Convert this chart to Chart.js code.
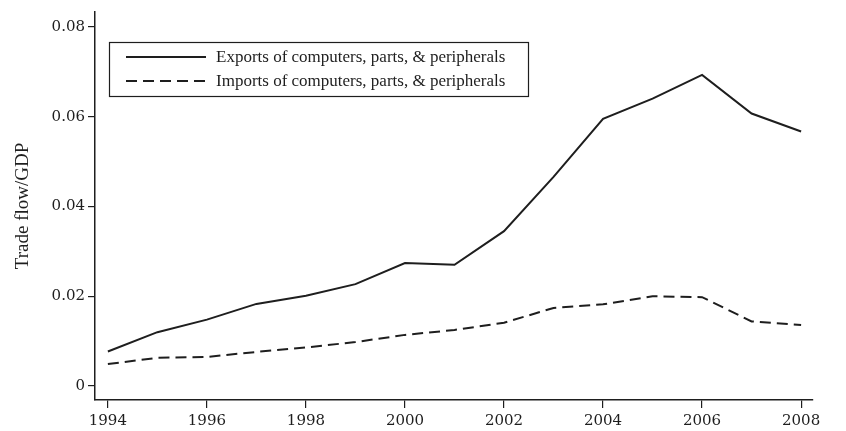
<!DOCTYPE html>
<html>
<head>
<meta charset="utf-8">
<script src="https://cdn.jsdelivr.net/npm/chart.js@4"></script>
<style>
  html, body { margin: 0; padding: 0; background: #fff; }
  #wrap { width: 846px; height: 431px; }
</style>
</head>
<body>
<div id="wrap"><canvas id="chart" width="846" height="431"></canvas></div>
<script>
// Years and series
const years = [1994, 1995, 1996, 1997, 1998, 1999, 2000, 2001, 2002, 2003, 2004, 2005, 2006, 2007, 2008];
const exportsShare = [0.0077, 0.0120, 0.0148, 0.0183, 0.0201, 0.0227, 0.0274, 0.0270, 0.0345, 0.0466, 0.0595, 0.0640, 0.0693, 0.0607, 0.0567];
const importsShare = [0.0049, 0.0063, 0.0065, 0.0076, 0.0086, 0.0098, 0.0114, 0.0125, 0.0141, 0.0174, 0.0182, 0.0200, 0.0198, 0.0144, 0.0136];
const xTicks = [1994, 1996, 1998, 2000, 2002, 2004, 2006, 2008];
const yTicks = [0, 0.02, 0.04, 0.06, 0.08];
const seriesLabels = ['Exports of computers, parts, & peripherals', 'Imports of computers, parts, & peripherals'];

const ink = '#1e1e1e';
const tickFont = { family: 'DejaVu Serif', size: 15 };

// legend box drawn inside the plot, like the original figure
const boxLegend = {
    id: 'boxLegend',
    afterDraw(chart) {
        const ctx = chart.ctx;
        const x0 = 109, y0 = 42, w = 419, h = 54;
        ctx.save();
        ctx.strokeStyle = ink;
        ctx.lineWidth = 1.2;
        ctx.strokeRect(x0 + 0.5, y0 + 0.5, w, h);
        ctx.font = '17px "Liberation Serif"';
        ctx.fillStyle = ink;
        ctx.textBaseline = 'middle';
        chart.data.datasets.forEach((ds, i) => {
            const y = y0 + 15 + i * 24;
            ctx.beginPath();
            ctx.lineWidth = 2;
            ctx.setLineDash(ds.borderDash || []);
            ctx.moveTo(126, y);
            ctx.lineTo(206, y);
            ctx.stroke();
            ctx.setLineDash([]);
            ctx.fillText(ds.label, 216, y + 1);
        });
        ctx.restore();
    }
};

new Chart(document.getElementById('chart'), {
    type: 'line',
    data: {
        datasets: [{
            label: seriesLabels[0],
            data: years.map((y, i) => ({ x: y, y: exportsShare[i] })),
            borderColor: ink,
            borderWidth: 2,
            pointRadius: 0,
            tension: 0
        }, {
            label: seriesLabels[1],
            data: years.map((y, i) => ({ x: y, y: importsShare[i] })),
            borderColor: ink,
            borderWidth: 2,
            borderDash: [11, 6],
            pointRadius: 0,
            tension: 0
        }]
    },
    options: {
        responsive: false,
        animation: false,
        layout: { padding: { top: 10, right: 33, left: 0, bottom: 0 } },
        plugins: { legend: { display: false }, tooltip: { enabled: false } },
        scales: {
            x: {
                type: 'linear',
                min: 1993.74,
                max: 2008.24,
                afterBuildTicks: s => { s.ticks = xTicks.map(v => ({ value: v })); },
                afterFit: s => { s.height = 31; },
                grid: { drawOnChartArea: false, drawTicks: true, tickLength: 8, color: ink, lineWidth: 1.2 },
                border: { display: true, color: ink, width: 1.5 },
                ticks: { color: ink, font: tickFont, padding: 4, maxRotation: 0, callback: v => String(v) }
            },
            y: {
                min: -0.0031,
                max: 0.0833,
                afterBuildTicks: s => { s.ticks = yTicks.map(v => ({ value: v })); },
                afterFit: s => { s.width = 95; },
                grid: { drawOnChartArea: false, drawTicks: true, tickLength: 7, color: ink, lineWidth: 1.2 },
                border: { display: true, color: ink, width: 1.5 },
                ticks: { color: ink, font: tickFont, padding: 3, callback: v => String(v) },
                title: { display: true, text: 'Trade flow/GDP', color: ink, font: { family: 'Liberation Serif', size: 19 }, padding: { top: 12, bottom: 0 } }
            }
        }
    },
    plugins: [boxLegend]
});
</script>
</body>
</html>
